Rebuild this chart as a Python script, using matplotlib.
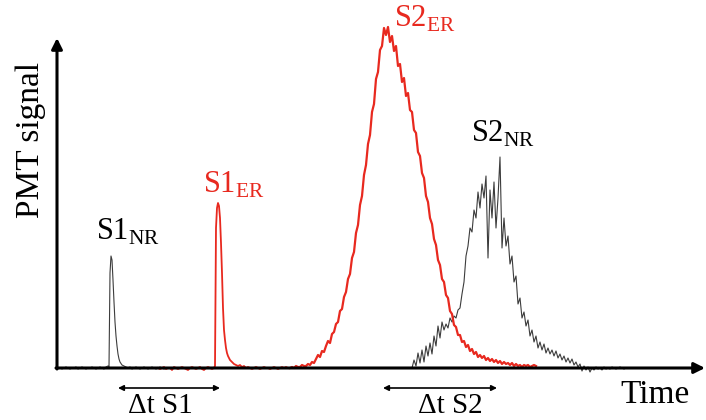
import numpy as np
import matplotlib
matplotlib.use("Agg")
import matplotlib.pyplot as plt
from matplotlib import font_manager

# pick a Times-like serif that is actually installed
names = {f.name for f in font_manager.fontManager.ttflist}
serif = [n for n in ['Liberation Serif', 'Times New Roman', 'Noto Serif', 'DejaVu Serif']
         if n in names]
plt.rcParams['font.family'] = serif + ['DejaVu Sans']
plt.rcParams['mathtext.fontset'] = 'custom'
plt.rcParams['mathtext.rm'] = serif[0] if serif else 'DejaVu Serif'

# ---- data (time and signal in arbitrary units) ----
# NR waveform (black): S1 part
nr_s1_t = [60, 62, 64, 66, 68, 70, 72, 74, 76, 78, 80, 82, 84, 86, 88, 90, 92, 94,
           96, 98, 100, 102, 104, 106, 108, 109, 110, 111, 112, 113, 114, 115, 116,
           117, 118, 119, 120, 122, 124, 126, 128, 130, 132, 134, 136, 138, 140, 142,
           144, 146, 148, 150, 152, 154, 156, 158, 160, 162, 164, 166]
nr_s1_v = [0, -1, 0, 1, 0, -1, 0, 0, 1, -1, 0, 1, 0, -1, 0, 0, 1, 0,
           -1, 0, 1, 0, -1, 1, 2, 1, 95, 112, 108, 88, 66, 46, 32,
           22, 14, 9, 6, 3, 2, 1, 0, 1, -1, 0, 1, 0, -1, 0,
           1, 0, -1, 0, 1, 0, -1, 0, 1, 0, -1, 0]

# NR waveform (black): S2 part, sampled every 2 units from 412
nr_s2_t0 = 412
nr_s2_v = [0, 8, 2, 15, 5, 18, 6, 22, 12, 25, 14, 32, 22, 42, 30, 46, 38, 44,
           40, 50, 46, 52, 50, 58, 60, 74, 86, 112, 122, 140, 136, 158, 150, 176,
           160, 184, 170, 192, 110, 178, 150, 186, 140, 170, 211, 120, 150, 122,
           132, 104, 112, 86, 92, 64, 70, 50, 56, 42, 48, 32, 38, 26, 32, 20,
           26, 18, 24, 15, 20, 14, 18, 12, 17, 10, 14, 8, 12, 6, 10, 5,
           9, 3, 6, 1, 4, -3, 2, -2, 1, -4, 0, -2, 1, -1, 0, -2,
           1, -1, 0, -1, 1, 0, -1, 0, 1, 0, -1, 0]

# ER waveform (red): baseline + S1 part
er_s1_t = [158, 160, 162, 164, 166, 168, 170, 172, 174, 176, 178, 180, 182, 184,
           186, 188, 190, 192, 194, 196, 198, 200, 202, 204, 206, 208, 210, 212,
           214, 215, 216, 217, 218, 219, 220, 221, 222, 223, 224, 225, 226, 227,
           228, 230, 232, 234, 236, 238, 240, 242, 244, 246, 248, 250, 252, 254,
           256, 258, 260, 262, 264, 266, 268, 270, 272, 274, 276, 278, 280, 282,
           284, 286, 288]
er_s1_v = [0, -1, 0, 1, -1, 0, 0, -2, 1, 0, -1, 0, 1, 0,
           -1, -2, 0, 1, 0, -1, 0, 1, -1, -2, 0, 1, 0, -1,
           0, 2, 140, 160, 165, 162, 150, 125, 95, 60, 38, 28, 20, 15,
           12, 8, 6, 4, 3, 2, 3, 1, 2, 0, 1, 0, -1, 0,
           1, 0, -1, 0, 1, 0, 0, -1, 0, 1, 0, -1, 0, 1,
           0, 1, 0]

# ER waveform (red): S2 part, sampled every 2 units from 290
er_s2_t0 = 290
er_s2_v = [0, 1, 0, 2, 1, 1, 3, 2, 2, 4, 3,
           6, 5, 9, 13, 11, 17, 16, 22, 27, 25, 34, 36, 44, 46, 57, 59, 71, 76,
           89, 94, 110, 116, 135, 143, 163, 172, 193, 203, 224, 233, 256, 264,
           289, 296, 318, 322, 340, 333, 341, 326, 332, 317, 322, 302, 304, 286,
           290, 272, 275, 258, 256, 238, 235, 216, 212, 195, 190, 172, 166, 150,
           144, 129, 123, 108, 103, 89, 86, 73, 70, 57, 54, 43, 41, 33, 33, 26,
           27, 21, 23, 17, 19, 14, 16, 11, 13, 10, 12, 8, 10, 7, 9, 6, 8, 5,
           7, 4, 6, 4, 5, 3, 5, 2, 4, 2, 3, 1, 3, 2, 3, 1, 2, 3, 2]
step = 2

nr_s2_t = nr_s2_t0 + step * np.arange(len(nr_s2_v))
er_s2_t = er_s2_t0 + step * np.arange(len(er_s2_v))

RED = '#e8291f'
GREY = '#3c3c3c'

fig = plt.figure(figsize=(7.06, 4.2), dpi=100)
ax = fig.add_axes([0, 0, 1, 1])
ax.set_xlim(0, 706)
ax.set_ylim(-52, 368)
ax.axis('off')

ax.plot(nr_s1_t, nr_s1_v, color=GREY, lw=0.8)
ax.plot(nr_s2_t, nr_s2_v, color=GREY, lw=0.8)
ax.plot(er_s1_t, er_s1_v, color=RED, lw=1.3)
ax.plot(er_s2_t, er_s2_v, color=RED, lw=1.6)

# axes drawn as arrows
ax.annotate('', xy=(57, 330), xytext=(57, -1),
            arrowprops=dict(arrowstyle='-|>', lw=2.2, color='black',
                            mutation_scale=16, shrinkA=0, shrinkB=0))
ax.annotate('', xy=(705, 0), xytext=(56, 0),
            arrowprops=dict(arrowstyle='-|>', lw=2.2, color='black',
                            mutation_scale=16, shrinkA=0, shrinkB=0))

ax.text(31, 228, 'PMT signal', rotation=90, fontsize=24, ha='center', va='center')
ax.text(620, -35, 'Time', fontsize=24, ha='left', va='baseline')

# peak labels
ax.text(96, 128, r'$\mathrm{S1}_{\mathrm{NR}}$', fontsize=22, color='black')
ax.text(203, 175, r'$\mathrm{S1}_{\mathrm{ER}}$', fontsize=22, color=RED)
ax.text(394, 341, r'$\mathrm{S2}_{\mathrm{ER}}$', fontsize=22, color=RED)
ax.text(471, 226, r'$\mathrm{S2}_{\mathrm{NR}}$', fontsize=22, color='black')

# delta-t arrows
ax.annotate('', xy=(118, -20), xytext=(220, -20),
            arrowprops=dict(arrowstyle='<|-|>', lw=1.2, color='black',
                            mutation_scale=8, shrinkA=0, shrinkB=0))
ax.annotate('', xy=(383, -20), xytext=(497, -20),
            arrowprops=dict(arrowstyle='<|-|>', lw=1.2, color='black',
                            mutation_scale=8, shrinkA=0, shrinkB=0))
ax.text(160, -45, '\u0394t S1', fontsize=21, ha='center', va='baseline')
ax.text(450, -45, '\u0394t S2', fontsize=21, ha='center', va='baseline')

fig.savefig('out.png', dpi=100)
